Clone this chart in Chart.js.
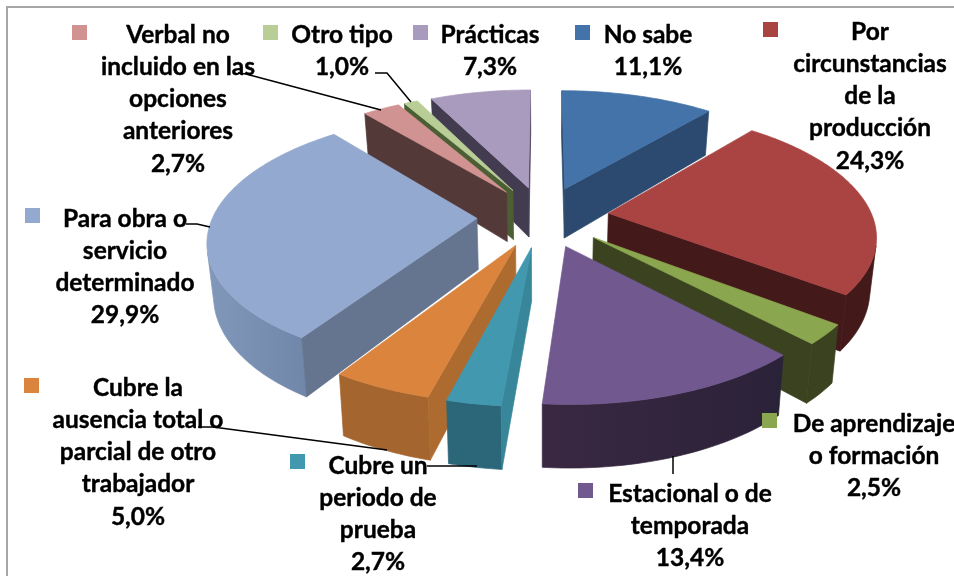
<!DOCTYPE html>
<html lang="es">

<head>
    <meta charset="utf-8">
    <title>Tipo de contrato</title>
    <script src="https://cdn.jsdelivr.net/npm/chart.js@4/dist/chart.umd.min.js"></script>
    <style>
        html, body { margin: 0; padding: 0; background: #ffffff; overflow: hidden; }
        canvas { display: block; }
    </style>
</head>

<body>
    <canvas id="myChart" width="954" height="576"></canvas>

    <script>
        const categories = ['No sabe', 'Por circunstancias de la producción', 'De aprendizaje o formación',
            'Estacional o de temporada', 'Cubre un periodo de prueba', 'Cubre la ausencia total o parcial de otro trabajador',
            'Para obra o servicio determinado', 'Verbal no incluido en las opciones anteriores', 'Otro tipo', 'Prácticas']
        const values = [11.1, 24.3, 2.5, 13.4, 2.7, 5.0, 29.9, 2.7, 1.0, 7.3]

        // colores: cara superior, paredes de corte, pared exterior (izq -> der)
        const topColors = ['#4373A8', '#A94442', '#8AA64E', '#71588F', '#4198AF', '#DB843D', '#93A9CF', '#D19392', '#B9CD96', '#A99BBD']
        const cutColors = ['#2C4A6F', '#44191A', '#3A4220', '#33253F', '#37869A', '#AE6B30', '#65758F', '#533A39', '#4C5E34', '#433B50']
        const rimFrom = ['#2C4A6F', '#44191A', '#3A4220', '#3A2842', '#2C6679', '#A4652E', '#8298BA', '#533A39', '#4C5E34', '#433B50']
        const rimTo = ['#2C4A6F', '#44191A', '#3A4220', '#2A2238', '#2C6679', '#A4652E', '#6C82A5', '#533A39', '#4C5E34', '#433B50']

        // lineas de cada etiqueta (el porcentaje sale de values)
        const labelLines = [['No sabe'], ['Por', 'circunstancias', 'de la', 'producción'], ['De aprendizaje', 'o formación'],
            ['Estacional o de', 'temporada'], ['Cubre un', 'periodo de', 'prueba'], ['Cubre la', 'ausencia total o', 'parcial de otro', 'trabajador'],
            ['Para obra o', 'servicio', 'determinado'], ['Verbal no', 'incluido en las', 'opciones', 'anteriores'], ['Otro tipo'], ['Prácticas']]
        const labelX = [648, 870, 874, 690, 378, 138, 125, 178, 342, 490]
        const labelY = [42.5, 39.5, 431.5, 501.5, 473.5, 395.5, 226.5, 42.5, 42.5, 42.5]
        const markerX = [575, 763, 762, 578, 290, 24, 25, 72, 263, 413]
        const markerY = [25, 22, 413, 483, 454, 378, 208, 25, 25, 25]

        const leaders = [
            [[238, 73], [246, 74], [381, 110]],
            [[375, 73], [387, 73], [411, 102]],
            [[186, 224], [197, 224], [210, 227]],
            [[198, 427], [213, 427], [387, 450]],
            [[427, 466], [477, 466]],
            [[673, 456], [673, 474]]
        ]

        // proyeccion en perspectiva del plano de la tarta
        const CX = 543, CY = 216.5, A = 264, B = 122, K = 0.16, DEPTH = 51, EXPLODE = 0.25

        function project(px, pz, low) {
            const w = 1 + K * pz
            let x = A * px / w
            if (low) x = x * 0.98
            return { x: CX + x, y: CY - B * pz / w + (low ? DEPTH / w : 0) }
        }

        function fillPoly(ctx, pts, color) {
            ctx.beginPath()
            pts.forEach((p, i) => i ? ctx.lineTo(p.x, p.y) : ctx.moveTo(p.x, p.y))
            ctx.closePath()
            ctx.fillStyle = color
            ctx.strokeStyle = color
            ctx.lineWidth = 0.7
            ctx.fill()
            ctx.stroke()
        }

        function isFront(a, b) {
            const q = [project(a.px, a.pz, false), project(b.px, b.pz, false), project(b.px, b.pz, true), project(a.px, a.pz, true)]
            let area = 0
            q.forEach((p, i) => {
                const n = q[(i + 1) % 4]
                area += p.x * n.y - n.x * p.y
            })
            return area < 0
        }

        function drawWall(ctx, pts, color) {
            const up = pts.map(p => project(p.px, p.pz, false))
            const down = pts.map(p => project(p.px, p.pz, true)).reverse()
            fillPoly(ctx, up.concat(down), color)
        }

        function drawSlice(ctx, arc, i) {
            // angulos calculados por Chart.js, medidos desde arriba en sentido horario
            const start = arc.startAngle + Math.PI / 2
            const end = arc.endAngle + Math.PI / 2
            const mid = (start + end) / 2
            const ox = EXPLODE * Math.sin(mid), oz = EXPLODE * Math.cos(mid)
            const apex = { px: ox, pz: oz }
            const steps = Math.max(4, Math.ceil((end - start) / 0.02))
            const ring = []
            for (let s = 0; s <= steps; s++) {
                const t = start + (end - start) * s / steps
                ring.push({ px: ox + Math.sin(t), pz: oz + Math.cos(t) })
            }

            const xs = ring.map(r => project(r.px, r.pz, false).x)
            const grad = ctx.createLinearGradient(Math.min(...xs), 0, Math.max(...xs), 0)
            grad.addColorStop(0, rimFrom[i])
            grad.addColorStop(1, rimTo[i])

            // tramos seguidos de la pared exterior que miran a la camara
            let run = []
            for (let s = 0; s < steps; s++) {
                if (isFront(ring[s], ring[s + 1])) {
                    if (!run.length) run.push(ring[s])
                    run.push(ring[s + 1])
                } else if (run.length) {
                    drawWall(ctx, run, grad)
                    run = []
                }
            }
            if (run.length) drawWall(ctx, run, grad)

            if (isFront(apex, ring[0])) drawWall(ctx, [apex, ring[0]], cutColors[i])
            if (isFront(ring[steps], apex)) drawWall(ctx, [ring[steps], apex], cutColors[i])

            const face = [project(apex.px, apex.pz, false)].concat(ring.map(r => project(r.px, r.pz, false)))
            fillPoly(ctx, face, topColors[i])
        }

        const pie3d = {
            id: 'pie3d',
            beforeDraw(chart) {
                const ctx = chart.ctx
                ctx.save()
                ctx.fillStyle = '#ffffff'
                ctx.fillRect(0, 0, chart.width, chart.height)
                ctx.fillStyle = '#A6A6A6'
                ctx.fillRect(6, 6, chart.width - 6, 2)
                ctx.fillRect(6, 6, 2, chart.height - 6)
                ctx.restore()
            },
            beforeDatasetsDraw(chart) {
                const ctx = chart.ctx
                const arcs = chart.getDatasetMeta(0).data
                const order = arcs.map((arc, i) => i).sort((a, b) => {
                    const ma = (arcs[a].startAngle + arcs[a].endAngle) / 2 + Math.PI / 2
                    const mb = (arcs[b].startAngle + arcs[b].endAngle) / 2 + Math.PI / 2
                    return Math.cos(mb) - Math.cos(ma)
                })
                ctx.save()
                order.forEach(i => drawSlice(ctx, arcs[i], i))
                ctx.restore()
                return false
            },
            afterDraw(chart) {
                const ctx = chart.ctx
                ctx.save()
                ctx.strokeStyle = '#000000'
                ctx.lineWidth = 1.5
                leaders.forEach(line => {
                    ctx.beginPath()
                    line.forEach((p, i) => i ? ctx.lineTo(p[0], p[1]) : ctx.moveTo(p[0], p[1]))
                    ctx.stroke()
                })
                ctx.font = 'bold 24.5px Lato'
                ctx.textAlign = 'center'
                ctx.textBaseline = 'alphabetic'
                ctx.lineWidth = 0.4
                categories.forEach((name, i) => {
                    ctx.fillStyle = topColors[i]
                    ctx.fillRect(markerX[i], markerY[i], 15, 15)
                    ctx.fillStyle = '#000000'
                    const lines = labelLines[i].concat(values[i].toFixed(1).replace('.', ',') + '%')
                    lines.forEach((t, n) => {
                        ctx.fillText(t, labelX[i], labelY[i] + n * 32.3)
                        ctx.strokeText(t, labelX[i], labelY[i] + n * 32.3)
                    })
                })
                ctx.restore()
            }
        }

        new Chart(document.getElementById('myChart'), {
            type: 'pie',
            data: {
                labels: categories,
                datasets: [{ data: values, backgroundColor: topColors }]
            },
            options: {
                responsive: false,
                animation: false,
                plugins: { legend: { display: false }, tooltip: { enabled: false } }
            },
            plugins: [pie3d]
        })
    </script>
</body>

</html>
